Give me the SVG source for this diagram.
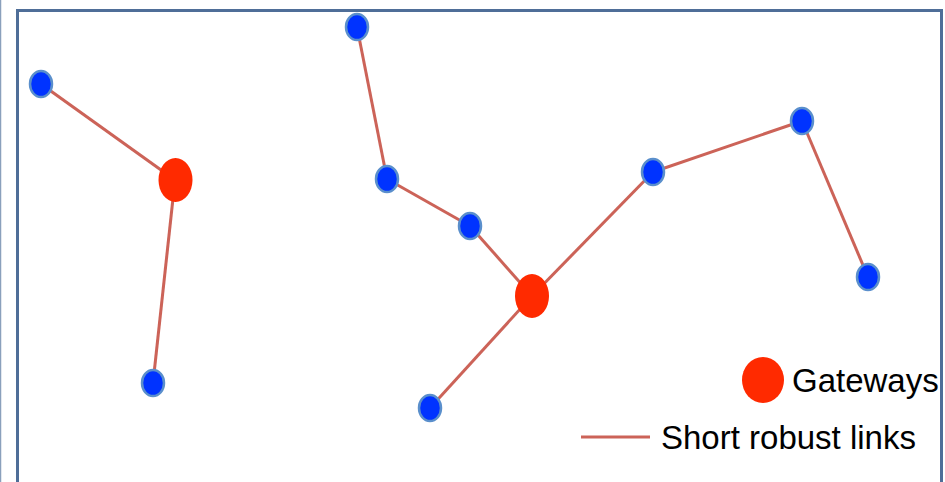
<svg xmlns="http://www.w3.org/2000/svg" width="945" height="482" viewBox="0 0 945 482">
<style>
.node{fill:#0033ff;stroke:#5a8fcc;stroke-width:2.5}
.gw{fill:#ff2a00}
.link{stroke:#cc6358;stroke-width:3;fill:none}
.lbl{font-family:"Liberation Sans",Arial,sans-serif;font-size:33px;fill:#000}
</style>
<rect width="945" height="482" fill="#fff"/>
<line x1="0.5" y1="0" x2="0.5" y2="482" stroke="#8aa0bc" stroke-width="1.5"/>
<rect x="17.5" y="10.5" width="924" height="490" fill="none" stroke="#4f6e98" stroke-width="3"/>
<g id="connectors">
<line class="link" x1="41" y1="84" x2="175" y2="180"/>
<line class="link" x1="175" y1="180" x2="153" y2="383"/>
<line class="link" x1="357" y1="27" x2="387" y2="179"/>
<line class="link" x1="387" y1="179" x2="470" y2="226"/>
<line class="link" x1="470" y1="226" x2="532" y2="296"/>
<line class="link" x1="532" y1="296" x2="653" y2="172"/>
<line class="link" x1="653" y1="172" x2="802" y2="121"/>
<line class="link" x1="802" y1="121" x2="868" y2="277"/>
<line class="link" x1="532" y1="296" x2="430" y2="408"/>
</g>
<g id="n1"><ellipse class="node" cx="41" cy="84" rx="11" ry="13"/></g>
<g id="n2"><ellipse class="node" cx="357" cy="27" rx="11" ry="13"/></g>
<g id="n3"><ellipse class="node" cx="387" cy="179" rx="11" ry="13"/></g>
<g id="n4"><ellipse class="node" cx="470" cy="226" rx="11" ry="13"/></g>
<g id="n5"><ellipse class="node" cx="653" cy="172" rx="11" ry="13"/></g>
<g id="n6"><ellipse class="node" cx="802" cy="121" rx="11" ry="13"/></g>
<g id="n7"><ellipse class="node" cx="868" cy="277" rx="11" ry="13"/></g>
<g id="n8"><ellipse class="node" cx="153" cy="383" rx="11" ry="13"/></g>
<g id="n9"><ellipse class="node" cx="430" cy="408" rx="11" ry="13"/></g>
<g id="g1"><ellipse class="gw" cx="175.5" cy="180" rx="17" ry="22"/></g>
<g id="g2"><ellipse class="gw" cx="532" cy="296" rx="17" ry="22"/></g>
<g id="legend">
<ellipse class="gw" cx="763" cy="380" rx="21" ry="23"/>
<text class="lbl" x="792" y="392">Gateways</text>
<line class="link" x1="581" y1="437" x2="650" y2="437"/>
<text class="lbl" x="661" y="449">Short robust links</text>
</g>
</svg>
